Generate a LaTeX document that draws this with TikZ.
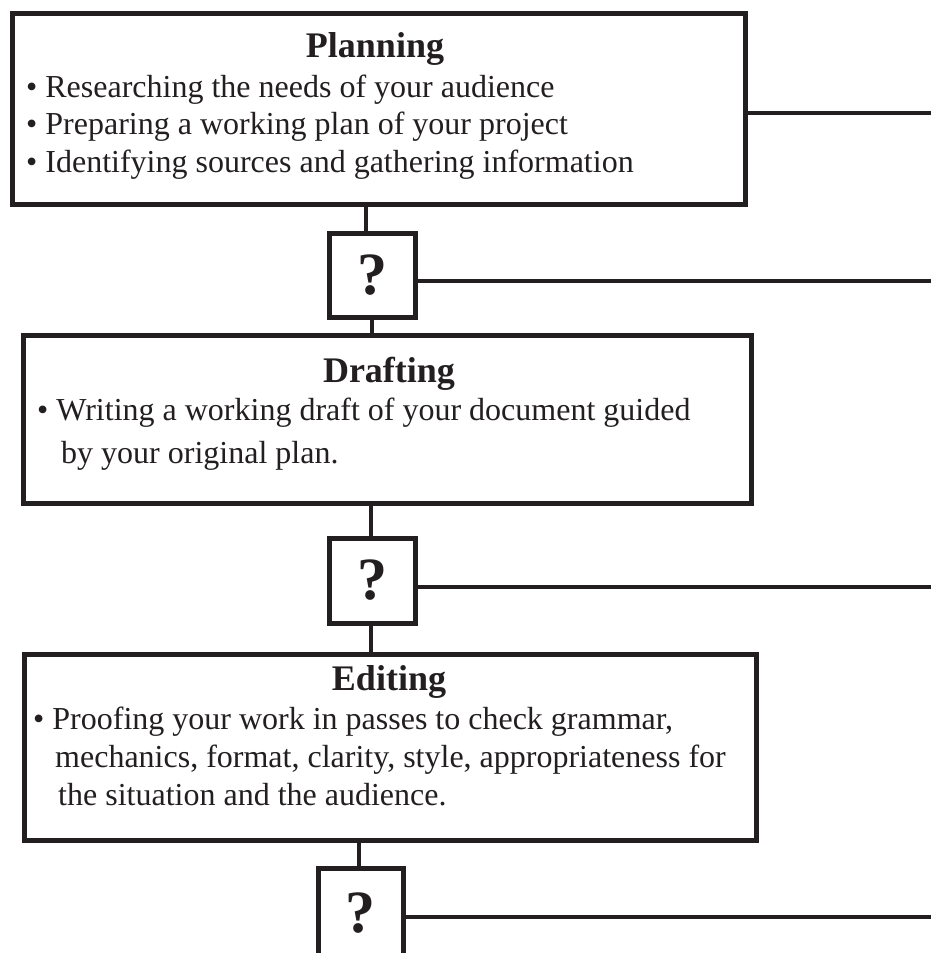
\documentclass[tikz,border=0pt]{standalone}
\usepackage{fontspec}
\setmainfont{Liberation Serif}
\usetikzlibrary{positioning}
\definecolor{ink}{HTML}{231F20}
\newcommand{\bodyfont}{\fontsize{32}{38}\selectfont}
\newcommand{\headfont}{\fontsize{36}{40}\selectfont\bfseries}
\tikzset{
	stagebox/.style={draw=ink, line width=5pt, inner sep=0pt, fill=white},
	askbox/.style={draw=ink, line width=5pt, inner sep=0pt, fill=white, minimum width=86pt, font=\fontsize{60}{60}\selectfont\bfseries, text=ink},
	headtext/.style={anchor=base, inner sep=0pt, font=\headfont, text=ink},
	bodytext/.style={anchor=base west, inner sep=0pt, font=\bodyfont, text=ink},
	link/.style={draw=ink, line width=4.5pt}
}
\begin{document}
\begin{tikzpicture}[x=1pt, y=-1pt]
		\useasboundingbox (0,0) rectangle (931,953);
		% stages
		\node[stagebox, minimum width=733pt, minimum height=191pt] (plan) at (378.5,108.5) {};
		\node[stagebox, minimum width=728pt, minimum height=168pt] (draft) at (387,419) {};
		\node[stagebox, minimum width=732pt, minimum height=186pt] (edit) at (390,747) {};
		% question boxes
		\node[askbox, minimum height=84pt] (q1) at (372,275) {?};
		\node[askbox, minimum height=85pt] (q2) at (372,580.5) {?};
		\node[askbox, minimum width=85pt, minimum height=90pt] (q3) at (360.5,913) {?};
		% free ends on the right
		\coordinate (e0) at (940,113);
		\coordinate (e1) at (940,281);
		\coordinate (e2) at (940,587);
		\coordinate (e3) at (940,917);
		% vertical links
		\draw[link] ([xshift=-6pt]q1.north) -- ([xshift=-6pt]q1.north |- plan.south);
		\draw[link] (q1.south) -- (q1.south |- draft.north);
		\draw[link] ([xshift=-1pt]q2.north) -- ([xshift=-1pt]q2.north |- draft.south);
		\draw[link] ([xshift=-1pt]q2.south) -- ([xshift=-1pt]q2.south |- edit.north);
		\draw[link] ([xshift=-1.5pt]q3.north) -- ([xshift=-1.5pt]q3.north |- edit.south);
		% horizontal links
		\draw[link] (e0 -| plan.east) -- (e0);
		\draw[link] (e1 -| q1.east) -- (e1);
		\draw[link] (e2 -| q2.east) -- (e2);
		\draw[link] (e3 -| q3.east) -- (e3);
		% texts
		\node[headtext] (plant) at (375,57) {Planning};
		\node[bodytext] (plan1) at (26,97) {• Researching the needs of your audience};
		\node[bodytext] (plan2) at (26,134) {• Preparing a working plan of your project};
		\node[bodytext] (plan3) at (26,172) {• Identifying sources and gathering information};
		\node[headtext] (draftt) at (389,382) {Drafting};
		\node[bodytext] (draft1) at (37,420) {• Writing a working draft of your document guided};
		\node[bodytext] (draft2) at (61,463) {by your original plan.};
		\node[headtext] (editt) at (389,690) {Editing};
		\node[bodytext] (edit1) at (33,729) {• Proofing your work in passes to check grammar,};
		\node[bodytext] (edit2) at (55,767) {mechanics, format, clarity, style, appropriateness for};
		\node[bodytext] (edit3) at (58,805) {the situation and the audience.};
	\end{tikzpicture}
\end{document}
